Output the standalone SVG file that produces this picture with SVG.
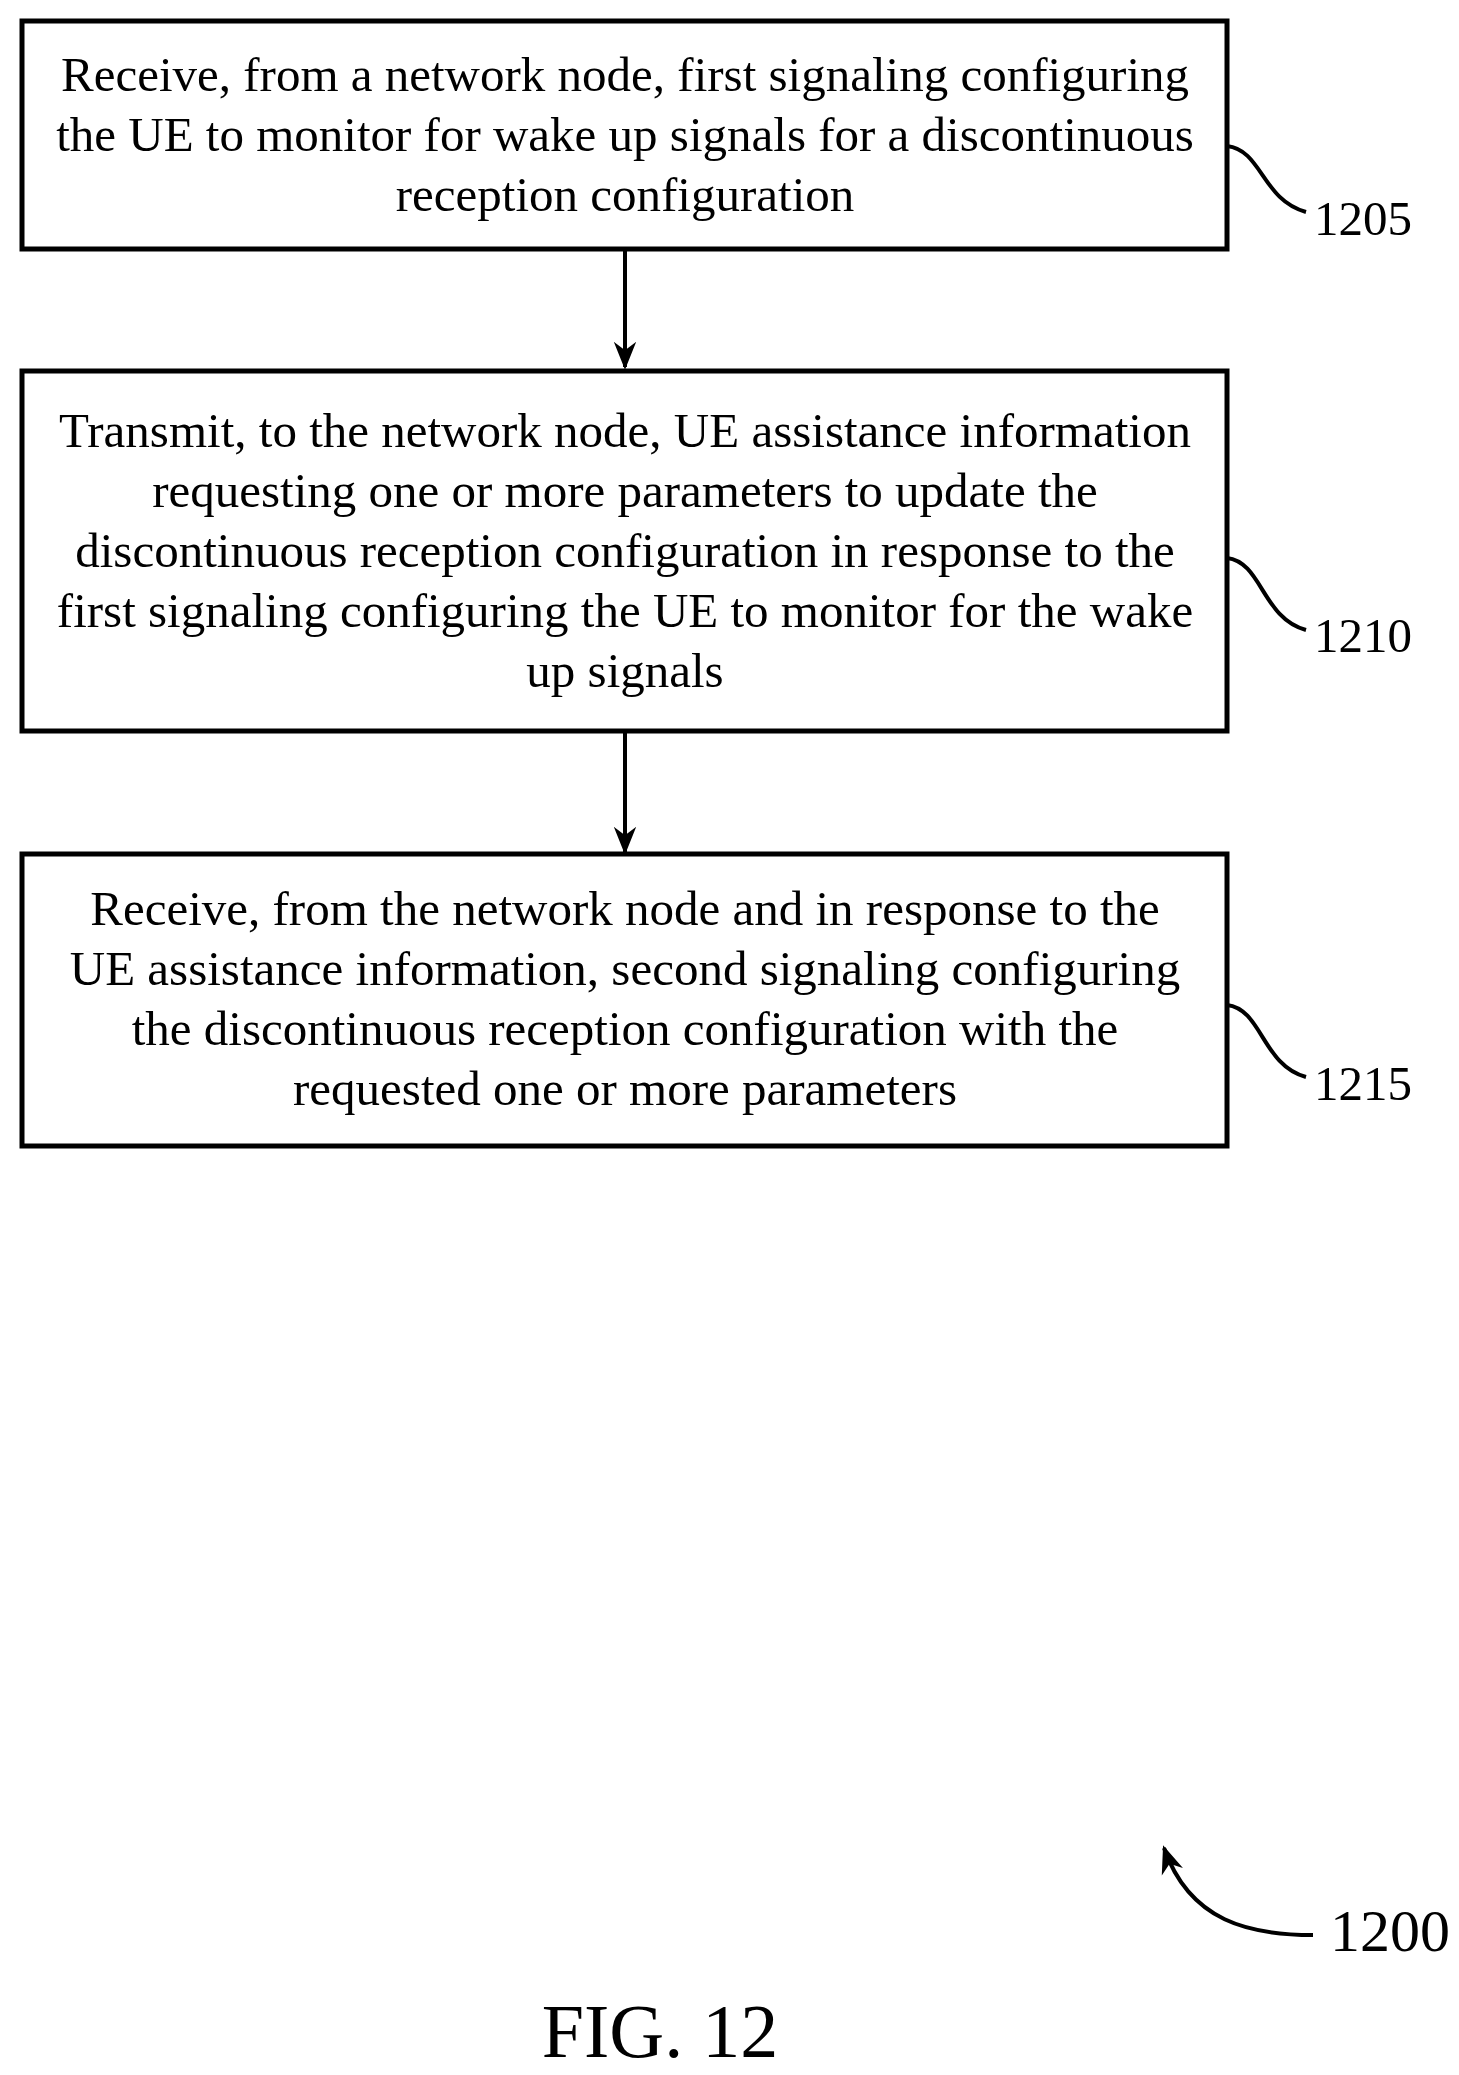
<svg xmlns="http://www.w3.org/2000/svg" width="1459" height="2075" viewBox="0 0 1459 2075">
<style>
.box{fill:#fff;stroke:#000;stroke-width:5}
.t{font-family:"Liberation Serif",serif;font-size:49px;text-anchor:middle;fill:#000}
.lbl{font-family:"Liberation Serif",serif;font-size:49px;fill:#000}
.ln{fill:none;stroke:#000;stroke-width:4}
</style>
<defs>
<marker id="a" viewBox="0 0 10 10" refX="9" refY="5" markerWidth="28" markerHeight="28" markerUnits="userSpaceOnUse" orient="auto"><path d="M0,1L10,5L0,9L3,5z"/></marker></defs>
<rect width="1459" height="2075" fill="#fff"/>
<g id="n1205"><rect class="box" x="22" y="21" width="1205" height="228"/>
<text class="t" x="625" y="91">Receive, from a network node, first signaling configuring</text>
<text class="t" x="625" y="151">the UE to monitor for wake up signals for a discontinuous</text>
<text class="t" x="625" y="211">reception configuration</text>
<path class="ln" d="M1227,146 C1262,150 1262,200 1306,212"/><text class="lbl" x="1314" y="235">1205</text></g>
<g id="n1210"><rect class="box" x="22" y="371" width="1205" height="360"/>
<text class="t" x="625" y="447">Transmit, to the network node, UE assistance information</text>
<text class="t" x="625" y="507">requesting one or more parameters to update the</text>
<text class="t" x="625" y="567">discontinuous reception configuration in response to the</text>
<text class="t" x="625" y="627">first signaling configuring the UE to monitor for the wake</text>
<text class="t" x="625" y="687">up signals</text>
<path class="ln" d="M1227,558 C1262,562 1262,618 1306,630"/><text class="lbl" x="1314" y="652">1210</text></g>
<g id="n1215"><rect class="box" x="22" y="854" width="1205" height="292"/>
<text class="t" x="625" y="925">Receive, from the network node and in response to the</text>
<text class="t" x="625" y="985">UE assistance information, second signaling configuring</text>
<text class="t" x="625" y="1045">the discontinuous reception configuration with the</text>
<text class="t" x="625" y="1105">requested one or more parameters</text>
<path class="ln" d="M1227,1005 C1262,1009 1262,1065 1306,1077"/><text class="lbl" x="1314" y="1100">1215</text></g>
<g id="connectors">
<line class="ln" x1="625" y1="249" x2="625" y2="367" marker-end="url(#a)"/>
<line class="ln" x1="625" y1="731" x2="625" y2="852" marker-end="url(#a)"/>
<path class="ln" d="M1313,1935 C1250,1935 1190,1922 1164,1848" marker-end="url(#a)"/>
</g>
<text x="1330" y="1951" font-family="Liberation Serif,serif" font-size="60">1200</text>
<text x="660" y="2057" font-family="Liberation Serif,serif" font-size="76" text-anchor="middle">FIG. 12</text>
</svg>
